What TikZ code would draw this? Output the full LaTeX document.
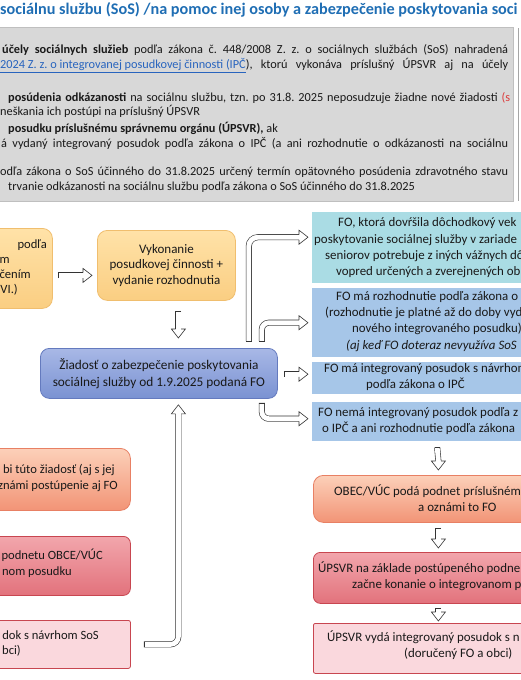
\documentclass[tikz,border=0pt]{standalone}
\usepackage{fontspec}
\setmainfont{Carlito}
\usetikzlibrary{calc}
\frenchspacing
\definecolor{titleblue}{RGB}{31,110,180}
\definecolor{linkblue}{RGB}{40,100,190}
\definecolor{redtxt}{RGB}{220,60,60}
\definecolor{txt}{RGB}{25,25,25}
\definecolor{grayfill}{RGB}{216,216,216}
\definecolor{orTop}{RGB}{255,226,168}
\definecolor{orBot}{RGB}{250,206,130}
\definecolor{orLine}{RGB}{240,190,110}
\definecolor{blTop}{RGB}{168,184,230}
\definecolor{blBot}{RGB}{122,146,210}
\definecolor{blLine}{RGB}{100,122,190}
\definecolor{teal}{RGB}{170,220,228}
\definecolor{lblue}{RGB}{166,198,232}
\definecolor{saTop}{RGB}{252,208,185}
\definecolor{saBot}{RGB}{242,148,118}
\definecolor{saLine}{RGB}{232,128,100}
\definecolor{rdTop}{RGB}{242,166,172}
\definecolor{rdBot}{RGB}{226,114,124}
\definecolor{rdLine}{RGB}{200,70,80}
\definecolor{pink}{RGB}{250,216,221}
\tikzset{
  box/.style={rectangle, anchor=north west, inner sep=0pt, text=txt},
  orangebox/.style={box, rounded corners=10, draw=orLine, line width=0.8pt, top color=orTop, bottom color=orBot},
  bluebox/.style={box, rounded corners=9, draw=blLine, line width=0.8pt, top color=blTop, bottom color=blBot},
  tealbox/.style={box, fill=teal},
  lbluebox/.style={box, fill=lblue},
  salmonbox/.style={box, rounded corners=10, draw=saLine, line width=0.8pt, top color=saTop, bottom color=saBot},
  redbox/.style={box, rounded corners=7, draw=rdLine, line width=0.8pt, top color=rdTop, bottom color=rdBot},
  pinkbox/.style={box, rounded corners=2, draw=rdLine, line width=0.8pt, fill=pink},
  gtext/.style={inner sep=0pt, anchor=mid west, text=txt, font=\fontsize{12.3}{15}\selectfont},
  ltext/.style={inner sep=0pt, anchor=mid west, text=txt},
  rtext/.style={inner sep=0pt, anchor=mid east, text=txt, font=\fontsize{12.6}{15}\selectfont},
  shaft/.style={draw=black!80, line width=0.6pt, double=white, double distance=4.8pt},
}
\newcommand\arrhead[2]{\filldraw[fill=white, draw=black!80, line width=0.6pt, shift={(#1)}, rotate=#2] (-9,2.7) -- (-9,7) -- (0,0) -- (-9,-7) -- (-9,-2.7);}
\newcommand\arrtail[2]{\draw[draw=black!80, line width=0.6pt, shift={(#1)}, rotate=#2] (0,2.7) -- (0,-2.7);}
\begin{document}
\begin{tikzpicture}[x=1pt, y=-1pt, font=\fontsize{12.9}{15.5}\selectfont]
\useasboundingbox (0,0) rectangle (520,680);
\fill[white] (0,0) rectangle (520,680);
% title
\node[inner sep=0pt, anchor=mid west, font=\bfseries\fontsize{16.2}{19}\selectfont, text=titleblue] (title) at (0,12) {sociálnu službu (SoS) /na pomoc inej osoby a zabezpečenie poskytovania soci};
% gray info box
\node[box, fill=grayfill, draw=gray!50, minimum width=523, minimum height=174] (info) at (-10,27) {};
\draw[gray!70, line width=0.8pt] (518,28) -- (518,201);
\node[gtext] (g1) at (2,51) {\makebox[506pt][s]{\textbf{účely sociálnych služieb} podľa zákona č. 448/2008 Z. z. o sociálnych službách (SoS) nahradená}};
\node[gtext] (g2) at (0,66) {\makebox[508pt][s]{\textcolor{linkblue}{\underline{2024 Z. z. o integrovanej posudkovej činnosti (IPČ}}), ktorú vykonáva príslušný ÚPSVR aj na účely}};
\node[gtext] (g3) at (8,99) {\makebox[502pt][s]{\textbf{posúdenia odkázanosti} na sociálnu službu, tzn. po 31.8. 2025 neposudzuje žiadne nové žiadosti \textcolor{redtxt}{(s}}};
\node[gtext] (g4) at (0,113) {neškania ich postúpi na príslušný ÚPSVR};
\node[gtext] (g5) at (8,130) {\textbf{posudku príslušnému správnemu orgánu (ÚPSVR),} ak};
\node[gtext] (g6) at (1,145) {\makebox[507pt][s]{á vydaný integrovaný posudok podľa zákona o IPČ (a ani rozhodnutie o odkázanosti na sociálnu}};
\node[gtext] (g7) at (0,173) {\makebox[508pt][s]{odľa zákona o SoS účinného do 31.8.2025 určený termín opätovného posúdenia zdravotného stavu}};
\node[gtext] (g8) at (8,188) {trvanie odkázanosti na sociálnu službu podľa zákona o SoS účinného do 31.8.2025};
% boxes
\node[orangebox, minimum width=112, minimum height=80] (lb) at (-60,228) {};
\node[orangebox, minimum width=138, minimum height=70, align=center, font=\fontsize{13}{15.5}\selectfont] (vyk) at (97,230) {Vykonanie\\posudkovej činnosti +\\vydanie rozhodnutia};
\node[bluebox, minimum width=237, minimum height=50, align=center, font=\fontsize{13.3}{17}\selectfont] (ziad) at (40,348) {Žiadosť o zabezpečenie poskytovania\\sociálnej služby od 1.9.2025 podaná FO};
\node[tealbox, minimum width=240, minimum height=71] (r1) at (312,212) {};
\node[lbluebox, minimum width=240, minimum height=69] (r2) at (312,288) {};
\node[lbluebox, minimum width=240, minimum height=32] (r3) at (312,362) {};
\node[lbluebox, minimum width=240, minimum height=39] (r4) at (312,402) {};
\node[salmonbox, minimum width=240, minimum height=47] (r5) at (313,475) {};
\node[redbox, minimum width=240, minimum height=51] (r6) at (313,552) {};
\node[pinkbox, minimum width=240, minimum height=50] (r7) at (313,623) {};
\node[salmonbox, minimum width=190, minimum height=62] (la) at (-60,448) {};
\node[redbox, minimum width=190, minimum height=59] (lB) at (-60,536) {};
\node[pinkbox, minimum width=190, minimum height=48] (lc) at (-60,620) {};
% texts in cut boxes
\node[rtext] (lb1) at (47,246) {podľa};
\node[rtext] (lb2) at (10,261) {m};
\node[rtext] (lb3) at (31,276) {čením};
\node[rtext] (lb4) at (18,291) {VI.)};
\node[ltext] (r1a) at (338,224) {FO, ktorá dovŕšila dôchodkový vek};
\node[ltext] (r1b) at (314,241) {poskytovanie sociálnej služby v zariade};
\node[ltext] (r1c) at (325,257) {seniorov potrebuje z iných vážnych dô};
\node[ltext] (r1d) at (336,273) {vopred určených a zverejnených ob};
\node[ltext] (r2a) at (336,298) {FO má rozhodnutie podľa zákona o};
\node[ltext] (r2b) at (325,314) {(rozhodnutie je platné až do doby vyd};
\node[ltext] (r2c) at (352,330) {nového integrovaného posudku)};
\node[ltext] (r2d) at (346,347) {\itshape (aj keď FO doteraz nevyužíva SoS};
\node[ltext] (r3a) at (324,370) {FO má integrovaný posudok s návrhom};
\node[ltext] (r3b) at (366,386) {podľa zákona o IPČ};
\node[ltext] (r4a) at (318,414) {FO nemá integrovaný posudok podľa z};
\node[ltext] (r4b) at (322,430) {o IPČ a ani rozhodnutie podľa zákona};
\node[ltext] (r5a) at (334,493) {OBEC/VÚC podá podnet príslušném};
\node[ltext] (r5b) at (418,509) {a oznámi to FO};
\node[ltext] (r6a) at (318,570) {ÚPSVR na základe postúpeného podne};
\node[ltext] (r6b) at (352,586) {začne konanie o integrovanom p};
\node[ltext] (r7a) at (327,639) {ÚPSVR vydá integrovaný posudok s n};
\node[ltext] (r7b) at (404,655) {(doručený FO a obci)};
\node[rtext] (la1) at (115,471) {bi túto žiadosť (aj s jej};
\node[rtext] (la2) at (118,487) {známi postúpenie aj FO};
\node[rtext] (lB1) at (103,557) {podnetu OBCE/VÚC};
\node[rtext] (lB2) at (72,573) {nom posudku};
\node[rtext] (lc1) at (99,637) {dok s návrhom SoS};
\node[rtext] (lc2) at (21,652) {bci)};
% hollow arrows
\coordinate (a1t) at ($(lb.east)+(5,7)$);
\coordinate (a1h) at ($(vyk.west)+(-5,10)$);
\draw[shaft] (a1t) -- ($(a1h)+(-9,0)$);
\arrhead{a1h}{0}\arrtail{a1t}{0}
\coordinate (a2t) at ($(vyk.south)+(12,10)$);
\coordinate (a2h) at ($(ziad.north)+(19.5,-10)$);
\draw[shaft] (a2t) -- ($(a2h)+(0,-9)$);
\arrhead{a2h}{-90}\arrtail{a2t}{90}
\coordinate (a3t) at ($(ziad.north east)+(-29,-7)$);
\coordinate (a3h) at ($(r1.west)+(-4,-10.5)$);
\draw[shaft, rounded corners=9] (a3t) |- ($(a3h)+(-9,0)$);
\arrhead{a3h}{0}\arrtail{a3t}{90}
\coordinate (a4t) at ($(ziad.north east)+(-16,-7)$);
\coordinate (a4h) at ($(r2.west)+(-4,0)$);
\draw[shaft, rounded corners=7] (a4t) |- ($(a4h)+(-9,0)$);
\arrhead{a4h}{0}\arrtail{a4t}{90}
\coordinate (a5h) at ($(r3.west)+(-4,-4)$);
\coordinate (a5t) at ($(ziad.east |- a5h)+(6,0)$);
\draw[shaft] (a5t) -- ($(a5h)+(-9,0)$);
\arrhead{a5h}{0}\arrtail{a5t}{0}
\coordinate (a6t) at ($(ziad.south east)+(-16,4)$);
\coordinate (a6h) at ($(r4.west)+(-4,-3)$);
\draw[shaft, rounded corners=7] (a6t) |- ($(a6h)+(-9,0)$);
\arrhead{a6h}{0}\arrtail{a6t}{90}
\coordinate (a7t) at ($(r4.south)+(5,6)$);
\coordinate (a7h) at ($(r5.north)+(5,-5)$);
\draw[shaft] (a7t) -- ($(a7h)+(0,-9)$);
\arrhead{a7h}{-90}\arrtail{a7t}{90}
\coordinate (a8t) at ($(r5.south)+(5,5)$);
\coordinate (a8h) at ($(r6.north)+(5,-4)$);
\draw[shaft] (a8t) -- ($(a8h)+(0,-9)$);
\arrhead{a8h}{-90}\arrtail{a8t}{90}
\coordinate (a9t) at ($(r6.south)+(5,4)$);
\coordinate (a9h) at ($(r7.north)+(5,-2)$);
\draw[shaft] (a9t) -- ($(a9h)+(0,-9)$);
\arrhead{a9h}{-90}\arrtail{a9t}{90}
\coordinate (aLt) at ($(lc.east)+(13,0)$);
\coordinate (aLh) at ($(ziad.south)+(19.5,6)$);
\draw[shaft, rounded corners=8] (aLt) -| ($(aLh)+(0,9)$);
\arrhead{aLh}{90}\arrtail{aLt}{0}
\end{tikzpicture}
\end{document}
